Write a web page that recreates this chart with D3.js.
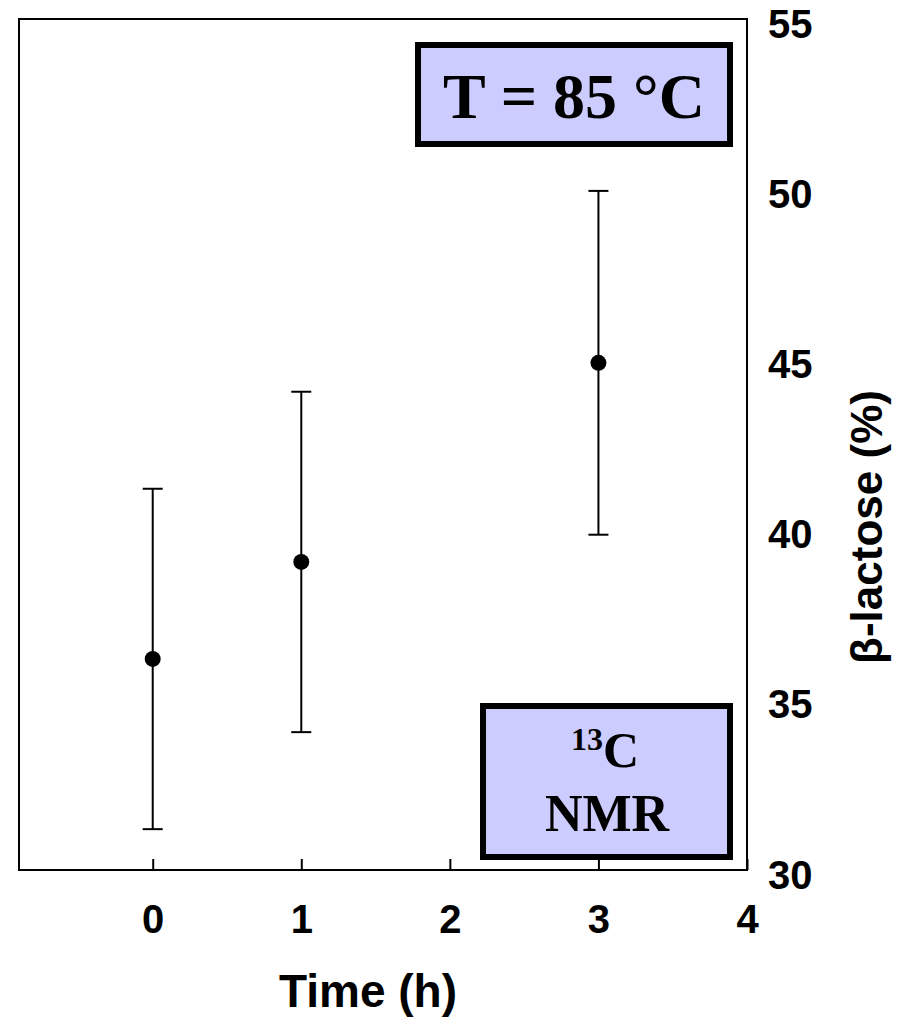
<!DOCTYPE html>
<html>
<head>
<meta charset="utf-8">
<script src="https://cdn.jsdelivr.net/npm/d3@7"></script>
<style>
  body { margin: 0; background: #fff; }
  svg text { fill: #000; }
</style>
</head>
<body>
<div id="chart"></div>
<script>
// data
var times = [0, 1, 3];
var betaLactose = [36.2, 39.05, 44.9];
var errors = [5.0, 5.0, 5.05];
var xTicks = [0, 1, 2, 3, 4];
var yTicks = [30, 35, 40, 45, 50, 55];

// plot frame
var frame = { left: 19, right: 747, top: 19, bottom: 870 };

var svg = d3.select("#chart")
  .append("svg")
  .attr("width", 899)
  .attr("height", 1020);

var x = d3.scaleLinear()
  .domain([-0.9, 4])
  .range([frame.left, frame.right]);

var y = d3.scaleLinear()
  .domain([30, 55])
  .range([frame.bottom, frame.top]);

// frame
svg.append("rect")
  .attr("x", frame.left)
  .attr("y", frame.top)
  .attr("width", frame.right - frame.left)
  .attr("height", frame.bottom - frame.top)
  .attr("fill", "none")
  .attr("stroke", "#000")
  .attr("stroke-width", 2);

// x axis, ticks pointing inward
var xAxis = svg.append("g")
  .attr("transform", "translate(0," + frame.bottom + ")")
  .call(d3.axisBottom(x).tickValues(xTicks).tickSize(-11).tickPadding(35).tickFormat(d3.format("d")));
xAxis.select(".domain").remove();
xAxis.selectAll("line").attr("stroke", "#000").attr("stroke-width", 2);
xAxis.selectAll("text")
  .attr("font-family", "Liberation Sans, Arial, sans-serif")
  .attr("font-weight", "bold")
  .attr("font-size", 40);

// y axis on the right, labels only
var yAxis = svg.append("g")
  .attr("transform", "translate(" + frame.right + ",0)")
  .call(d3.axisRight(y).tickValues(yTicks).tickSize(0).tickPadding(21));
yAxis.select(".domain").remove();
yAxis.selectAll("text")
  .attr("dy", "0.45em")
  .attr("font-family", "Liberation Sans, Arial, sans-serif")
  .attr("font-weight", "bold")
  .attr("font-size", 40);

// axis titles
svg.append("text")
  .attr("x", 368)
  .attr("y", 1007)
  .attr("text-anchor", "middle")
  .attr("font-family", "Liberation Sans, Arial, sans-serif")
  .attr("font-weight", "bold")
  .attr("font-size", 46)
  .text("Time (h)");

svg.append("text")
  .attr("transform", "translate(882,527) rotate(-90)")
  .attr("text-anchor", "middle")
  .attr("font-family", "Liberation Sans, Arial, sans-serif")
  .attr("font-weight", "bold")
  .attr("font-size", 44)
  .text("\u03b2-lactose (%)");

// error bars
var bars = svg.append("g");
times.forEach(function (t, i) {
  var lo = betaLactose[i] - errors[i], hi = betaLactose[i] + errors[i];
  bars.append("line")
    .attr("x1", x(t)).attr("x2", x(t))
    .attr("y1", y(lo)).attr("y2", y(hi))
    .attr("stroke", "#000").attr("stroke-width", 2);
  [lo, hi].forEach(function (v) {
    bars.append("line")
      .attr("x1", x(t) - 10).attr("x2", x(t) + 10)
      .attr("y1", y(v)).attr("y2", y(v))
      .attr("stroke", "#000").attr("stroke-width", 2);
  });
});

// points
svg.append("g")
  .selectAll("circle")
  .data(times)
  .enter()
  .append("circle")
  .attr("cx", function (d) { return x(d); })
  .attr("cy", function (d, i) { return y(betaLactose[i]); })
  .attr("r", 8)
  .attr("fill", "#000");

// annotation boxes
svg.append("rect")
  .attr("x", 418).attr("y", 45)
  .attr("width", 312).attr("height", 99)
  .attr("fill", "#ccccff")
  .attr("stroke", "#000")
  .attr("stroke-width", 6);

svg.append("text")
  .attr("x", 574)
  .attr("y", 118)
  .attr("text-anchor", "middle")
  .attr("font-family", "Liberation Serif, Times New Roman, serif")
  .attr("font-weight", "bold")
  .attr("font-size", 64)
  .text("T = 85 \u00b0C");

svg.append("rect")
  .attr("x", 483).attr("y", 706)
  .attr("width", 247).attr("height", 151)
  .attr("fill", "#ccccff")
  .attr("stroke", "#000")
  .attr("stroke-width", 6);

var nmr = svg.append("text")
  .attr("x", 605)
  .attr("y", 767)
  .attr("text-anchor", "middle")
  .attr("font-family", "Liberation Serif, Times New Roman, serif")
  .attr("font-weight", "bold")
  .attr("font-size", 50);
nmr.append("tspan").attr("font-size", 32).attr("dy", -17).text("13");
nmr.append("tspan").attr("dy", 17).text("C");

svg.append("text")
  .attr("x", 607)
  .attr("y", 831)
  .attr("text-anchor", "middle")
  .attr("font-family", "Liberation Serif, Times New Roman, serif")
  .attr("font-weight", "bold")
  .attr("font-size", 52)
  .text("NMR");
</script>
</body>
</html>
